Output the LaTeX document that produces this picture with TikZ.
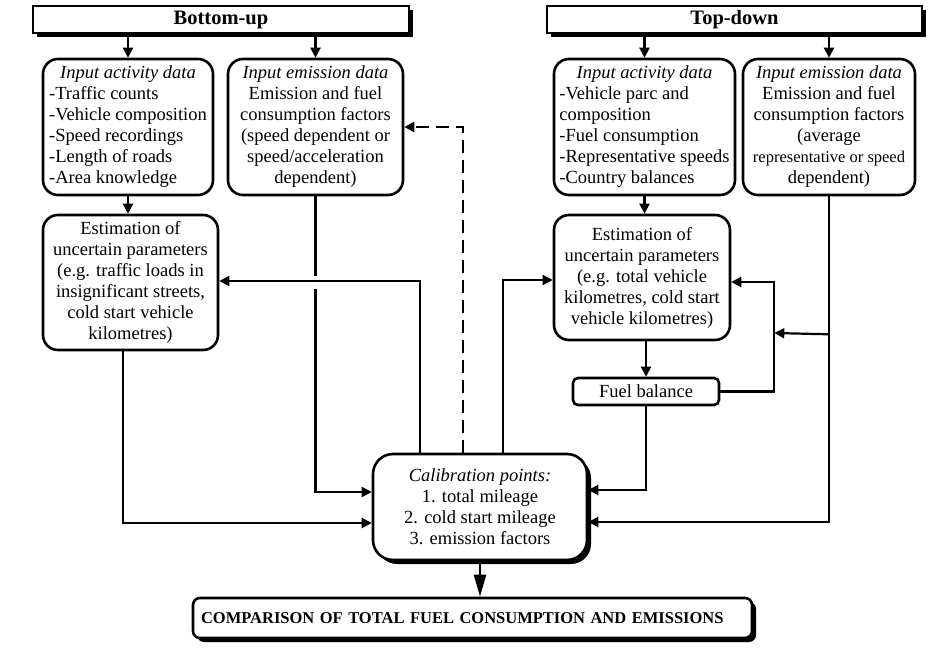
\documentclass[tikz,border=0pt]{standalone}
\usepackage{fontspec}
\setmainfont{Liberation Serif}
\usetikzlibrary{arrows.meta,calc,shadows}
\begin{document}
\begin{tikzpicture}[x=1pt,y=-1pt,
  base/.style={font=\fontsize{18.5}{21}\selectfont},
  shad/.style={drop shadow={shadow xshift=4pt,shadow yshift=-4pt,opacity=1,fill=black}},
  hdr/.style={draw, line width=2.4pt, fill=white, inner sep=0pt, font=\fontsize{20.5}{22}\selectfont\bfseries, shad},
  rbox/.style={draw, line width=2.6pt, rounded corners=15pt, fill=white, inner sep=0pt, align=center, base},
  conn/.style={line width=2.2pt},
  arr/.style={conn, -{Triangle[length=10pt,width=10pt]}},
  bigarr/.style={conn, -{Triangle[length=22pt,width=12pt]}},
]
\useasboundingbox (0,0) rectangle (940,658);

% headers
\node[hdr, minimum width=376pt, minimum height=27pt] (hdrL) at (221,19.5) {Bottom-up};
\node[hdr, minimum width=375pt, minimum height=27pt] (hdrR) at (734.5,19.5) {Top-down};

% input boxes
\node[rbox, minimum width=170pt, minimum height=136pt] (actL) at (128,127)
 {\begin{tabular}{@{}l@{}}\multicolumn{1}{@{}c@{}}{\itshape Input activity data}\\-Traffic counts\\-Vehicle composition\\-Speed recordings\\-Length of roads\\-Area knowledge\end{tabular}};
\node[rbox, minimum width=175pt, minimum height=136pt] (emL) at (315.5,127)
 {{\itshape Input emission data}\\Emission and fuel\\consumption factors\\(speed dependent or\\speed/acceleration\\dependent)};
\node[rbox, minimum width=181pt, minimum height=136pt] (actR) at (644.5,127)
 {\begin{tabular}{@{}l@{}}\multicolumn{1}{@{}c@{}}{\itshape Input activity data}\\-Vehicle parc and\\composition\\-Fuel consumption\\-Representative speeds\\-Country balances\end{tabular}};
\node[rbox, minimum width=172pt, minimum height=136pt] (emR) at (829,127)
 {{\itshape Input emission data}\\Emission and fuel\\consumption factors\\(average\\{\fontsize{16.5}{21}\selectfont representative or speed}\\dependent)};

% estimation boxes
\node[rbox, minimum width=175pt, minimum height=135pt] (estL) at (130.5,282.5)
 {Estimation of\\uncertain parameters\\(e.g. traffic loads in\\insignificant streets,\\cold start vehicle\\kilometres)};
\node[rbox, minimum width=176pt, minimum height=125pt] (estR) at (642,277.5)
 {Estimation of\\uncertain parameters\\(e.g. total vehicle\\kilometres, cold start\\vehicle kilometres)};
\node[rbox, rounded corners=5pt, minimum width=146pt, minimum height=27pt] (fuel) at (646,391.5) {Fuel balance};

% calibration and comparison
\node[rbox, rounded corners=20pt, minimum width=214pt, minimum height=106pt, shad] (cal) at (480,507)
 {{\itshape Calibration points:}\\1. total mileage\\2. cold start mileage\\3. emission factors};
\node[draw, line width=2.6pt, rounded corners=7pt, fill=white, shad, minimum height=40pt,
      text width=543pt, inner xsep=8pt, inner ysep=0pt, align=left,
      font=\fontsize{16.5}{18}\selectfont\bfseries] (cmp) at (472.5,618)
 {COMPARISON OF TOTAL FUEL CONSUMPTION AND EMISSIONS};

% header arrows
\draw[arr] (hdrL.south -| actL.north) -- (actL.north);
\draw[arr] (hdrL.south -| emL.north) -- (emL.north);
\draw[arr] (hdrR.south -| actR.north) -- (actR.north);
\draw[arr] (hdrR.south -| emR.north) -- (emR.north);

% bottom-up side
\draw[arr] (actL.south) -- (actL.south |- estL.north);
\draw[conn] (emL.south) -- ($(emL.south |- estL.east)+(0,-7)$);
\draw[arr] ($(emL.south |- estL.east)+(0,6)$) |- ($(cal.west)+(0,-15)$);
\draw[arr] ($(cal.north)+(-60,0)$) |- ($(estL.east)+(0,-1.5)$);
\draw[arr, dash pattern=on 13pt off 7pt] ($(cal.north)+(-17,0)$) |- (emL.east);
\draw[arr] ($(estL.south)+(-7.5,0)$) |- ($(cal.west)+(0,16)$);

% top-down side
\draw[arr] (actR.south) -- (actR.south |- estR.north);
\draw[arr] (fuel.north |- estR.south) -- (fuel.north);
\draw[arr] (fuel.south) |- ($(cal.east)+(0,-17)$);
\draw[arr] (fuel.east) -| ($(estR.east)+(43,4.5)$) -- ($(estR.east)+(0,4.5)$);
\draw[arr] (emR.south) |- ($(cal.east)+(0,15)$);
\draw[arr] ($(emR.south)+(0,138)$) -- ($(estR.east)+(43,55.5)$);
\draw[arr] ($(cal.north)+(23,0)$) |- ($(estR.west)+(0,2.5)$);

% to comparison
\draw[bigarr] (cal.south) -- (cal.south |- cmp.north);
\end{tikzpicture}
\end{document}
